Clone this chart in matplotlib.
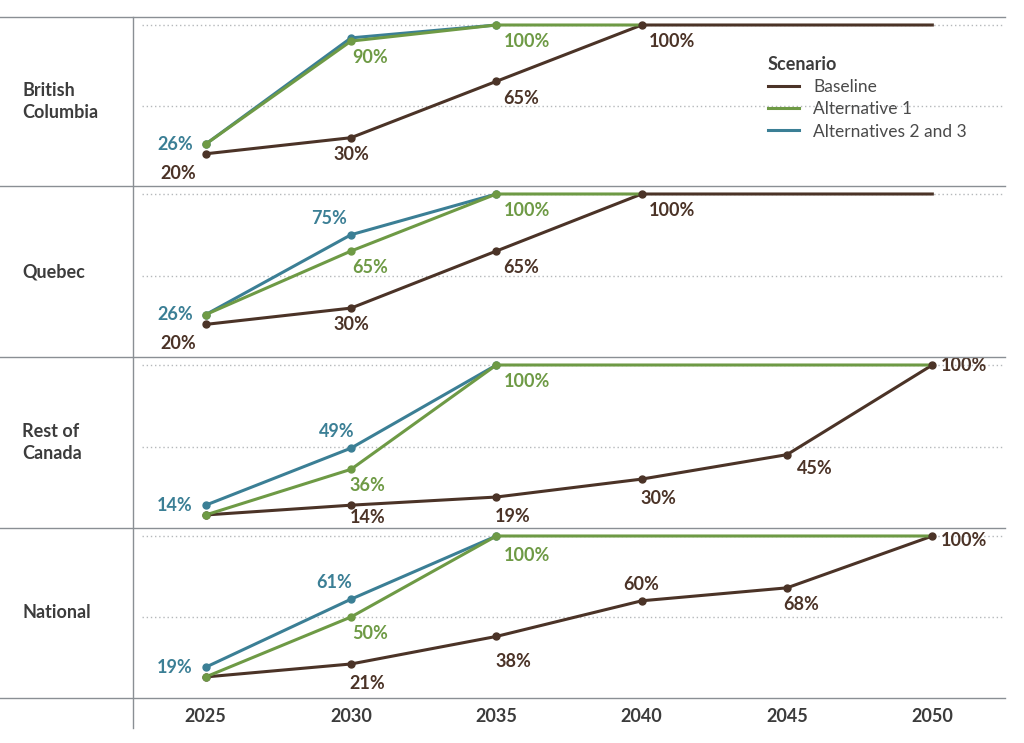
import matplotlib.pyplot as plt
from matplotlib.lines import Line2D

plt.rcParams['font.family'] = ['Lato', 'DejaVu Sans']

years = [2025, 2030, 2035, 2040, 2045, 2050]
regions = ["British\nColumbia", "Quebec", "Rest of\nCanada", "National"]

baseline = [[20, 30, 65, 100, 100, 100], [20, 30, 65, 100, 100, 100],
            [8, 14, 19, 30, 45, 100], [13, 21, 38, 60, 68, 100]]
baseline_dots = [4, 4, 6, 6]
alt1 = [[26, 90, 100, 100], [26, 65, 100, 100],
        [8, 36, 100, 100, 100, 100], [13, 50, 100, 100, 100, 100]]
alt2 = [[26, 92, 100], [26, 75, 100], [14, 49, 100], [19, 61, 100]]

# labels: (series, year index, text, offset in points)
labels = [
    [("b", 0, "20%", (-20, -14)), ("b", 1, "30%", (0, -12)), ("b", 2, "65%", (18, -12)),
     ("b", 3, "100%", (22, -12)), ("a2", 0, "26%", (-22, 0)), ("a1", 1, "90%", (14, -12)),
     ("a1", 2, "100%", (22, -12))],
    [("b", 0, "20%", (-20, -14)), ("b", 1, "30%", (0, -12)), ("b", 2, "65%", (18, -12)),
     ("b", 3, "100%", (22, -12)), ("a2", 0, "26%", (-22, 0)), ("a2", 1, "75%", (-16, 12)),
     ("a1", 1, "65%", (14, -12)), ("a1", 2, "100%", (22, -12))],
    [("b", 1, "14%", (12, -9)), ("b", 2, "19%", (12, -14)), ("b", 3, "30%", (12, -14)),
     ("b", 4, "45%", (20, -10)), ("b", 5, "100%", (23, 0)), ("a2", 0, "14%", (-22, 0)),
     ("a2", 1, "49%", (-10, 12)), ("a1", 1, "36%", (12, -12)), ("a1", 2, "100%", (22, -12))],
    [("b", 1, "21%", (12, -14)), ("b", 2, "38%", (12, -18)), ("b", 3, "60%", (0, 12)),
     ("b", 4, "68%", (10, -12)), ("b", 5, "100%", (23, -3)), ("a2", 0, "19%", (-22, 0)),
     ("a2", 1, "61%", (-12, 12)), ("a1", 1, "50%", (14, -12)), ("a1", 2, "100%", (22, -14))],
]

C_B = "#4b3327"
C_A1 = "#6e9a45"
C_A2 = "#3b7f95"
GRID = "#8a8f94"

W, H = 1024, 743
fig = plt.figure(figsize=(W / 100, H / 100), dpi=100)
edges = [17, 186, 357, 528, 698]
left, right = 133, 1005

for i in range(4):
    top, bot = edges[i], edges[i + 1]
    ax = fig.add_axes([left / W, 1 - bot / H, (right - left) / W, (bot - top) / H])
    ax.set_xlim(2022.5, 2052.5)
    ax.set_ylim(0, 100 * (bot - top) / (bot - top - 8))
    ax.axis("off")
    for g in (50, 100):
        ax.plot([2022.8, 2052.5], [g, g], color="#b5b8bb", lw=1, ls=(0, (1, 2)), zorder=0)
    series = {"b": baseline[i], "a1": alt1[i], "a2": alt2[i]}
    ax.plot(years, baseline[i], color=C_B, lw=2.2, zorder=2)
    ax.plot(years[:baseline_dots[i]], baseline[i][:baseline_dots[i]], "o", color=C_B, ms=5, zorder=5)
    ax.plot(years[:len(alt2[i])], alt2[i], color=C_A2, lw=2.2, zorder=3, marker="o", ms=5)
    ax.plot(years[:len(alt1[i])], alt1[i], color=C_A1, lw=2.2, zorder=4)
    ax.plot(years[:3], alt1[i][:3], "o", color=C_A1, ms=5, zorder=6)
    cols = {"b": C_B, "a1": C_A1, "a2": C_A2}
    for s, k, t, off in labels[i]:
        ax.annotate(t, (years[k], series[s][k]), xytext=off, textcoords="offset points",
                    ha="center", va="center", color=cols[s], fontsize=13, fontweight="bold")
    fig.text(22 / W, 1 - (top + bot) / 2 / H, regions[i], ha="left", va="center",
             fontsize=13, fontweight="bold", color="#3c3c3c", linespacing=1.4)
    if i == 0:
        handles = [Line2D([], [], color=c, lw=2.2) for c in (C_B, C_A1, C_A2)]
        leg = ax.legend(handles, ["Baseline", "Alternative 1", "Alternatives 2 and 3"],
                        title="Scenario", loc="upper left", bbox_to_anchor=(0.71, 0.86),
                        frameon=False, fontsize=12.5, handlelength=1.8, labelspacing=0.35,
                        alignment="left", labelcolor="#4a4a4a")
        leg.get_title().set_fontweight("bold")
        leg.get_title().set_fontsize(13)
        leg.get_title().set_color("#3c3c3c")

for y in edges:
    fig.add_artist(Line2D([0, right / W], [1 - y / H] * 2, color=GRID, lw=1))
fig.add_artist(Line2D([left / W] * 2, [1 - 17 / H, 1 - 728 / H], color=GRID, lw=1))

for yr in years:
    fx = (left + (yr - 2022.5) / 30 * (right - left)) / W
    fig.text(fx, 1 - 716 / H, str(yr), ha="center", va="center", fontsize=13,
             fontweight="bold", color="#3c3c3c")

fig.savefig("out.png", dpi=100)
